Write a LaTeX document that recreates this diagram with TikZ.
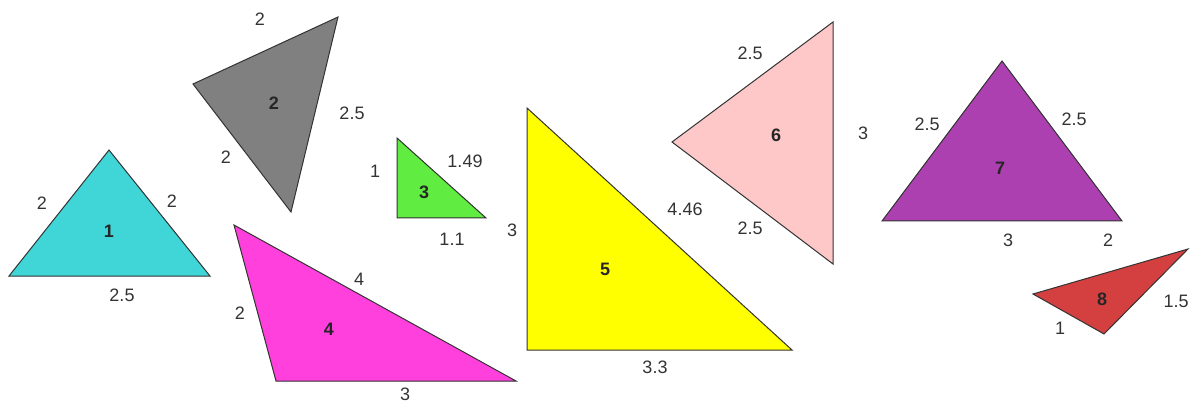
\documentclass[tikz,border=0pt]{standalone}
\usepackage{fontspec}
\setmainfont{Liberation Sans}
\usepackage{xcolor}
\usepackage{tikz}

\definecolor{triCyan}{RGB}{64,214,216}
\definecolor{triGray}{RGB}{128,128,128}
\definecolor{triGreen}{RGB}{96,236,64}
\definecolor{triMagenta}{RGB}{255,64,220}
\definecolor{triYellow}{RGB}{255,255,0}
\definecolor{triPink}{RGB}{255,200,200}
\definecolor{triPurple}{RGB}{172,64,176}
\definecolor{triRed}{RGB}{212,64,64}

\begin{document}
\begin{tikzpicture}[
  x=1pt, y=-1pt,
  tri/.style={draw=black!80, line width=1pt, line join=miter},
  side/.style={font=\fontsize{18}{18}\selectfont, text=black!80, inner sep=0pt},
  num/.style={font=\fontsize{18}{18}\selectfont\bfseries, text=black!85, inner sep=0pt}
]
\useasboundingbox (0,0) rectangle (1193,403);

\filldraw[tri, fill=triCyan] (109,150) -- (9,276) -- (210,276) -- cycle;
\node[num] (n1) at (109,231) {1};
\node[side] (a1) at (42,203) {2};
\node[side] (b1) at (172,201) {2};
\node[side] (c1) at (122,295) {2.5};

\filldraw[tri, fill=triGray] (193,84) -- (338,17) -- (291,212) -- cycle;
\node[num] (n2) at (274,103) {2};
\node[side] (a2) at (260,19) {2};
\node[side] (b2) at (352,113) {2.5};
\node[side] (c2) at (226,157) {2};

\filldraw[tri, fill=triGreen] (397,138) -- (397,218) -- (486,218) -- cycle;
\node[num] (n3) at (424,192) {3};
\node[side] (a3) at (375,171) {1};
\node[side] (b3) at (465,161) {1.49};
\node[side] (c3) at (452,239) {1.1};

\filldraw[tri, fill=triMagenta] (234,225) -- (276,381) -- (516,381) -- cycle;
\node[num] (n4) at (329,329) {4};
\node[side] (a4) at (240,313) {2};
\node[side] (b4) at (359,279) {4};
\node[side] (c4) at (405,394) {3};

\filldraw[tri, fill=triYellow] (527,108) -- (527,350) -- (792,350) -- cycle;
\node[num] (n5) at (605,269) {5};
\node[side] (a5) at (512,230) {3};
\node[side] (b5) at (685,209) {4.46};
\node[side] (c5) at (655,367) {3.3};

\filldraw[tri, fill=triPink] (672,142) -- (833,22) -- (833,264) -- cycle;
\node[num] (n6) at (776,135) {6};
\node[side] (a6) at (750,53) {2.5};
\node[side] (b6) at (863,133) {3};
\node[side] (c6) at (750,228) {2.5};

\filldraw[tri, fill=triPurple] (1002,61) -- (882,221) -- (1122,221) -- cycle;
\node[num] (n7) at (1000,168) {7};
\node[side] (a7) at (927,124) {2.5};
\node[side] (b7) at (1074,119) {2.5};
\node[side] (c7) at (1008,240) {3};
\node[side] (d7) at (1108,240) {2};

\filldraw[tri, fill=triRed] (1033,294) -- (1188,249) -- (1104,334) -- cycle;
\node[num] (n8) at (1102,299) {8};
\node[side] (a8) at (1060,328) {1};
\node[side] (b8) at (1176,301) {1.5};
\end{tikzpicture}
\end{document}
